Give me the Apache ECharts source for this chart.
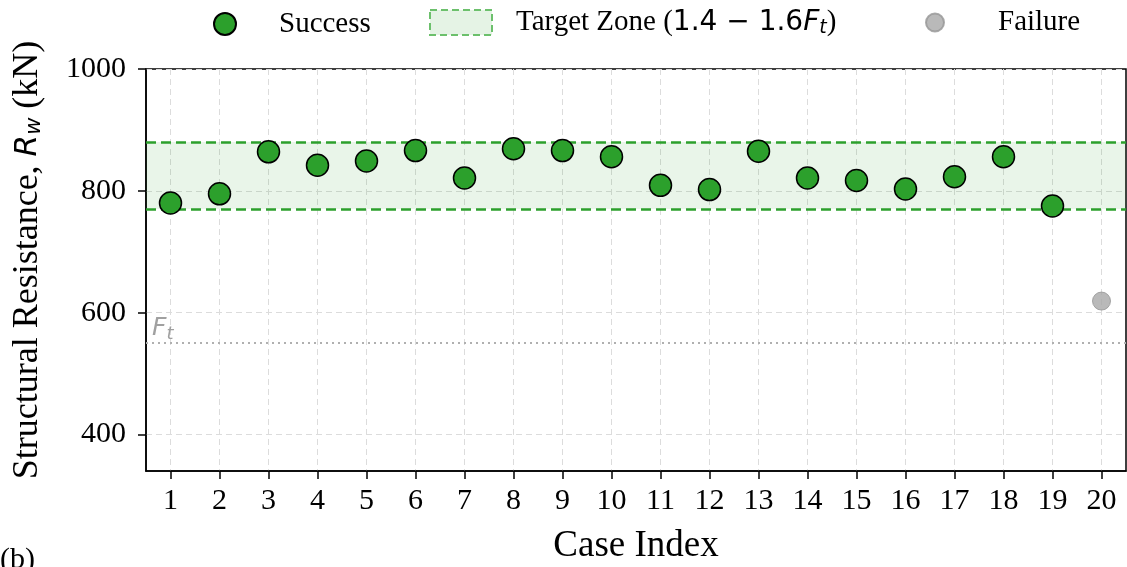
<!DOCTYPE html>
<html>
<head>
<meta charset="utf-8">
<script src="https://cdn.jsdelivr.net/npm/echarts@6/dist/echarts.min.js"></script>
<style>html,body{margin:0;padding:0;background:#fff}#c{width:1127px;height:567px}</style>
</head>
<body>
<div id="c"></div>
<script>
// ---- data ----
const CASES = [1,2,3,4,5,6,7,8,9,10,11,12,13,14,15,16,17,18,19,20];
const SUCCESS_CASES = [1,2,3,4,5,6,7,8,9,10,11,12,13,14,15,16,17,18,19];
const SUCCESS_VALUES = [780,795,864,842,849,866,821,869,866,856,809,802,865,821,817,803,823,856,775];
const FAILURE_CASES = [20];
const FAILURE_VALUES = [619];
const FT = 550;
const TARGET_ZONE = [770, 880];
const Y_TICKS = [400, 600, 800, 1000];

const SERIF = '"Liberation Serif","Times New Roman",serif';
const MATH = '"DejaVu Sans",sans-serif';

const chart = echarts.init(document.getElementById('c'), null, {renderer:'canvas'});
const option = {
  backgroundColor: '#fff',
  animation: false,
  grid: {left:146, right:1, top:69, bottom:96, outerBoundsMode:'none', containLabel:false,
         show:true, borderColor:'#000', borderWidth:1.5, backgroundColor:'transparent'},
  legend: [
    {data:[{name:'Success', icon:'circle'}], left:213, top:9.5, padding:0, itemWidth:22, itemHeight:22,
     formatter: n => '{sp|}' + n,
     textStyle:{fontFamily:SERIF, fontSize:29, color:'#000', rich:{sp:{width:38}}}},
    {data:[{name:'Target Zone', icon:'rect', itemStyle:{color:'rgba(44,160,44,0.12)', borderColor:'#6cc06c', borderWidth:2, borderType:[7,4]}}],
     left:429, top:8, padding:0, itemWidth:62, itemHeight:25,
     formatter: () => '{sp|}{a|Target Zone (}{m|1.4 − 1.6}{f|F}{s|t}{a|)}',
     textStyle:{color:'#000', rich:{
        sp:{width:19},
        a:{fontFamily:SERIF, fontSize:29, color:'#000'},
        m:{fontFamily:MATH, fontSize:28, color:'#000'},
        f:{fontFamily:MATH, fontSize:28, fontStyle:'italic', color:'#000'},
        s:{fontFamily:MATH, fontSize:19, fontStyle:'italic', color:'#000', padding:[12,0,0,0]}
     }}},
    {data:[{name:'Failure', icon:'circle'}], left:925, top:8, padding:0, itemWidth:18, itemHeight:18,
     formatter: n => '{sp|}' + n,
     textStyle:{fontFamily:SERIF, fontSize:29, color:'#000', rich:{sp:{width:49}}}}
  ],
  xAxis: {
    type:'value', min:0.5, max:20.5, name:'Case Index', nameLocation:'middle', nameGap:57,
    nameTextStyle:{fontFamily:SERIF, fontSize:37, color:'#000'},
    axisLine:{show:true, lineStyle:{color:'#000', width:1.5}},
    axisTick:{show:true, customValues:CASES, length:8, lineStyle:{color:'#000', width:1.5}},
    axisLabel:{customValues:CASES, fontFamily:SERIF, fontSize:30, color:'#000', margin:15},
    splitLine:{show:true, lineStyle:{color:'#dcdcdc', type:[6,4], width:1}}
  },
  yAxis: {
    type:'value', min:340, max:1000,
    name:'{a|Structural Resistance, }{r|R}{w|w}{a| (kN)}', nameLocation:'middle', nameGap:100,
    nameTextStyle:{color:'#000', padding:[0,0,0,20], rich:{
      a:{fontFamily:SERIF, fontSize:36, color:'#000'},
      r:{fontFamily:MATH, fontSize:31, fontStyle:'italic', color:'#000'},
      w:{fontFamily:MATH, fontSize:21, fontStyle:'italic', color:'#000', padding:[14,0,0,0]}
    }},
    axisLine:{show:true, lineStyle:{color:'#000', width:1.5}},
    axisTick:{show:true, customValues:Y_TICKS, length:8, lineStyle:{color:'#000', width:1.5}},
    axisLabel:{customValues:Y_TICKS, formatter: v => String(v), fontFamily:SERIF, fontSize:30, color:'#000', margin:20},
    splitLine:{show:true, lineStyle:{color:'#dcdcdc', type:[6,4], width:1}}
  },
  series: [
    {
      name:'Target Zone', type:'line', data:[], itemStyle:{color:'#2ca02c'},
      markArea:{silent:true, itemStyle:{color:'rgba(44,160,44,0.1)'}, data:[[{yAxis:TARGET_ZONE[0]},{yAxis:TARGET_ZONE[1]}]]},
      markLine:{silent:true, symbol:'none', label:{show:false},
        lineStyle:{color:'#2ca02c', type:[10,5], width:2.5},
        data:[{yAxis:TARGET_ZONE[0]},{yAxis:TARGET_ZONE[1]}]}
    },
    {
      name:'Ft', type:'line', data:[],
      markLine:{silent:true, symbol:'none',
        lineStyle:{color:'#b0b0b0', type:[2,4], width:2},
        label:{show:true, position:'insideStartTop', distance:[6,0],
          formatter:'{f|F}{s|t}',
          rich:{f:{fontFamily:MATH, fontSize:25, fontStyle:'italic', color:'#a0a0a0'},
                s:{fontFamily:MATH, fontSize:18, fontStyle:'italic', color:'#a0a0a0', padding:[12,0,0,0]}}},
        data:[{yAxis:FT}]}
    },
    {
      name:'Success', type:'scatter', z:10, symbol:'circle', symbolSize:22,
      itemStyle:{color:'#2ca02c', borderColor:'#000', borderWidth:1.5, opacity:1},
      data: SUCCESS_CASES.map((c,i)=>[c, SUCCESS_VALUES[i]])
    },
    {
      name:'Failure', type:'scatter', z:10, symbol:'circle', symbolSize:18,
      itemStyle:{color:'#a8a8a8', borderColor:'#959595', borderWidth:1},
      data: FAILURE_CASES.map((c,i)=>[c, FAILURE_VALUES[i]])
    }
  ],
  graphic:[{type:'text', left:0, top:545, style:{text:'(b)', font:'30px "Liberation Serif", serif', fill:'#000'}}]
};
chart.setOption(option);
</script>
</body>
</html>
